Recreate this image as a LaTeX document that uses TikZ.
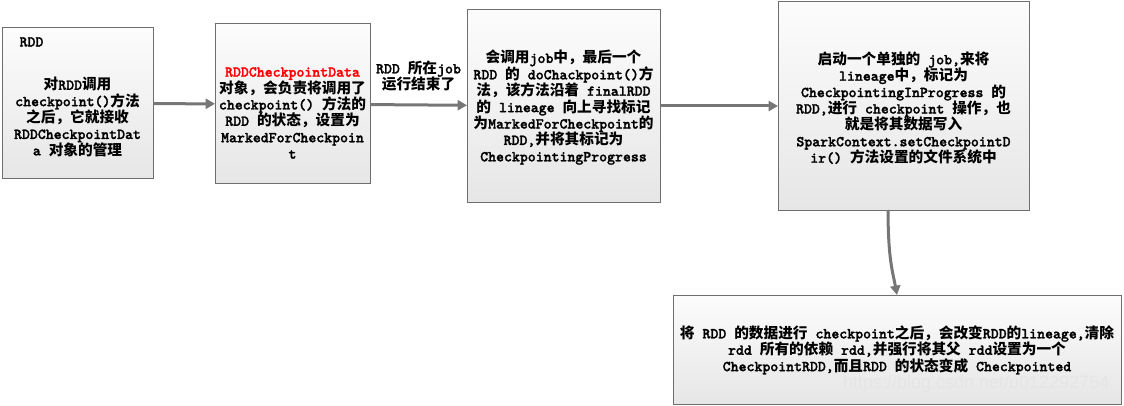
\documentclass[tikz,border=0pt]{standalone}
\usepackage{fontspec}
\usepackage{tikz}
\usetikzlibrary{arrows.meta,positioning,calc}
\newfontfamily\cjkfont{Noto Sans CJK SC}
\newfontfamily\latinfont[Scale=1.03,FakeBold=1.6]{lmmonolt10-bold.otf}
\newfontfamily\wmfont{Liberation Sans}
% switch between the Latin and the CJK font on the fly
\XeTeXinterchartokenstate=1
\newXeTeXintercharclass\CJKcls
\newcount\cjkcnt
\newcommand{\setcjkrange}[2]{\cjkcnt=#1\relax
  \loop\XeTeXcharclass\cjkcnt=\CJKcls\relax
  \ifnum\cjkcnt<#2\relax\advance\cjkcnt by 1\relax\repeat}
\setcjkrange{"4E00}{"9FFF}
\setcjkrange{"3000}{"303F}
\setcjkrange{"FF00}{"FFEF}
\XeTeXinterchartoks 0 \CJKcls = {\cjkfont}
\XeTeXinterchartoks 4095 \CJKcls = {\cjkfont}
\XeTeXinterchartoks \CJKcls 0 = {\latinfont}
\XeTeXinterchartoks \CJKcls 4095 = {\latinfont}
\definecolor{boxLine}{HTML}{6E6E6E}
\definecolor{boxTop}{HTML}{FCFCFC}
\definecolor{boxBottom}{HTML}{E6E6E6}
\definecolor{arrowGray}{HTML}{767676}
\tikzset{
	box/.style={draw=boxLine, line width=0.75pt, top color=boxTop, bottom color=boxBottom, outer sep=0, inner sep=0},
	txt/.style={align=center, inner sep=1pt, font=\bfseries\fontsize{11}{12.3}\selectfont\latinfont},
	flow/.style={->, draw=arrowGray, line width=2.25pt}
}
\begin{document}
\begin{tikzpicture}[x=0.75pt,y=-0.75pt,>={Triangle[length=7pt,width=7.5pt]}]
	\useasboundingbox (0,0) rectangle (1124,406);
	\node[box, minimum width=113.25pt, minimum height=113.25pt] (box1) at (77.5,103.5) {};
	\node[box, minimum width=116.25pt, minimum height=120pt] (box2) at (292.5,104) {};
	\node[box, minimum width=144.75pt, minimum height=144pt] (box3) at (563.5,106) {};
	\node[box, minimum width=188.25pt, minimum height=156pt] (box4) at (903.5,106) {};
	\node[box, minimum width=336pt, minimum height=81.75pt] (box5) at (897,349.5) {};
	
	\node[txt, anchor=west] (rddtitle) at (18,42) {RDD};
	\node[txt] (txt1) at (77.5,117) {对RDD调用\\checkpoint()方法\\之后，它就接收\\RDDCheckpointDat\\a 对象的管理};
	\node[txt] (txt2) at (292.5,113) {\textcolor{red}{RDDCheckpointData}\\对象，会负责将调用了\\checkpoint() 方法的\\RDD 的状态，设置为\\MarkedForCheckpoin\\t};
	\node[txt] (txt3) at (563.5,107.5) {会调用job中，最后一个\\RDD 的 doChackpoint()方\\法，该方法沿着 finalRDD\\的 lineage 向上寻找标记\\为MarkedForCheckpoint的\\RDD,并将其标记为\\CheckpointingProgress};
	\node[txt] (txt4) at (903.5,108) {启动一个单独的 job,来将\\lineage中，标记为\\CheckpointingInProgress 的\\RDD,进行 checkpoint 操作，也\\就是将其数据写入\\SparkContext.setCheckpointD\\ir() 方法设置的文件系统中};
	\node[txt] (txt5) at (897,350) {将 RDD 的数据进行 checkpoint之后，会改变RDD的lineage,清除\\rdd 所有的依赖 rdd,并强行将其父 rdd设置为一个\\CheckpointRDD,而且RDD 的状态变成 Checkpointed};
	\node[font=\wmfont\fontsize{13.5}{13.5}\selectfont, text=gray!20, anchor=east] (wm) at (1114,384) {https://blog.csdn.net/u012292754};
	
	\draw[flow] (box1) -- (box2);
	\draw[flow] (box2) -- node[txt, above=8pt] (jobdone) {RDD 所在job\\运行结束了} (box3);
	\draw[flow] (box3) -- (box4);
	\draw[flow] ([xshift=-11.6pt]box4.south) .. controls +(0,50) and +(-4,-22) .. (box5.north);
\end{tikzpicture}
\end{document}
